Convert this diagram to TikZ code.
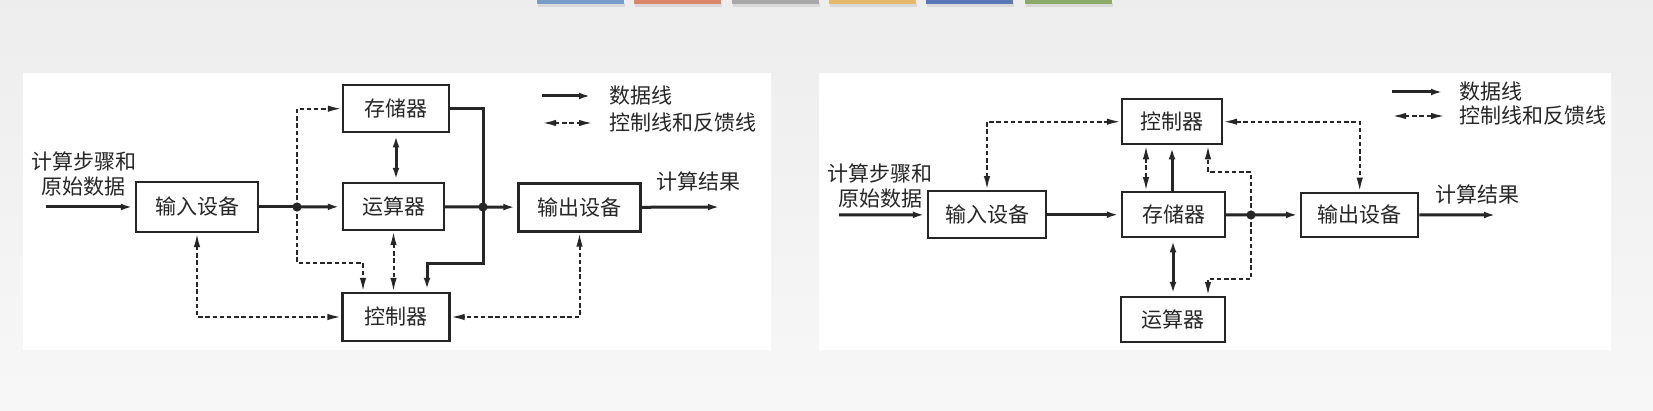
\documentclass[tikz,border=0pt]{standalone}
\usepackage{fontspec}
\newfontfamily\cjk{Noto Sans CJK SC}
\usepackage{xcolor}
\usetikzlibrary{arrows.meta,positioning}

\definecolor{tabblue}{HTML}{7A9CC8}
\definecolor{taborange}{HTML}{D9896A}
\definecolor{tabgrey}{HTML}{A8A8A8}
\definecolor{tabyellow}{HTML}{E6B86A}
\definecolor{tabnavy}{HTML}{5A78B8}
\definecolor{tabgreen}{HTML}{8AAA6A}
\definecolor{ink}{HTML}{262626}

\begin{document}
\begin{tikzpicture}[
  x = 0.5pt, y = -0.5pt,
  > = {Latex[length=7pt,width=3.2pt]},
  unit/.style = {rectangle, draw=ink, line width=1.1pt, fill=white,
                 inner sep=0pt, text=ink, font=\cjk\fontsize{10.5}{12.5}\selectfont},
  lbl/.style  = {align=center, inner sep=0pt, text=ink,
                 font=\cjk\fontsize{10.5}{12.5}\selectfont},
  data/.style = {draw=ink, line width=1.5pt},
  ctrl/.style = {draw=ink, line width=1pt, dash pattern=on 2.2pt off 1.4pt}
]
\useasboundingbox (0,0) rectangle (1653,411);
% page background
\shade[top color=black!7, bottom color=black!3] (0,0) rectangle (1653,411);
\foreach \xa/\col in {537/tabblue, 634/taborange, 732/tabgrey,
                      829/tabyellow, 926/tabnavy, 1025/tabgreen} {
  \fill[black!15] (\xa+1,3) rectangle (\xa+88,7);
  \fill[\col] (\xa,0) rectangle (\xa+87,4);
}
\fill[white] (23,73) rectangle (771,350);
\fill[white] (819,73) rectangle (1611,350);

% ---- left: von Neumann, ALU centred ----
\node[unit, minimum width=61pt, minimum height=25pt] (in1) at (197,207) {输入设备};
\node[unit, minimum width=53pt, minimum height=23.5pt] (mem1) at (396,108.7) {存储器};
\node[unit, minimum width=50.5pt, minimum height=23.5pt] (alu1) at (393.5,206.5) {运算器};
\node[unit, minimum width=53.5pt, minimum height=24pt] (ctl1) at (396,317) {控制器};
\node[unit, minimum width=61pt, minimum height=24pt] (out1) at (579.5,207.5) {输出设备};

\node[lbl] (src1) at (84,174) {计算步骤和\\原始数据};
\node[lbl] (res1) at (698,181) {计算结果};
\node[lbl, anchor=west] (key1) at (609,96) {数据线};
\node[lbl, anchor=west] (key2) at (609,123) {控制线和反馈线};

\coordinate (a1) at (46,207);
\coordinate (b1) at (722,207);
\coordinate (j1) at (297,207);
\coordinate (j2) at (483,207);
\coordinate (k1) at (427,263);
\coordinate (k2) at (363,263);
\coordinate (l1) at (542,96);
\coordinate (l2) at (542,123);

\draw[data,->] (a1) -- (in1);
\draw[data] (in1) -- (j1);
\draw[data,->] (j1) -- (alu1);
\draw[data] (alu1) -- (j2);
\draw[data,->] (j2) -- (out1);
\draw[data,->] (out1) -- (b1);
\draw[data,<->] (mem1.south) -- (mem1.south |- alu1.north);
\draw[data,->] (mem1.east) -| (j2) |- (k1) -- (k1 |- ctl1.north);
\fill[ink] (j1) circle[radius=2.3pt];
\fill[ink] (j2) circle[radius=2.3pt];

\draw[ctrl,->] (j1) |- (mem1.west);
\draw[ctrl,->] (j1) |- (k2) -- (k2 |- ctl1.north);
\draw[ctrl,<->] (alu1.south) -- (alu1.south |- ctl1.north);
\draw[ctrl,<->] (in1.south) |- (ctl1.west);
\draw[ctrl,<->] (out1.south) |- (ctl1.east);

\draw[data,->] (l1) -- ([xshift=-8pt]key1.west);
\draw[ctrl,<->] (l2) -- ([xshift=-8pt]key2.west);

% ---- right: memory centred ----
\node[unit, minimum width=59pt, minimum height=23.5pt] (in2) at (987,214.7) {输入设备};
\node[unit, minimum width=50pt, minimum height=22.5pt] (ctl2) at (1172,121.7) {控制器};
\node[unit, minimum width=51.5pt, minimum height=22.5pt] (mem2) at (1173.5,214.7) {存储器};
\node[unit, minimum width=52pt, minimum height=22.5pt] (alu2) at (1173,319.5) {运算器};
\node[unit, minimum width=58.5pt, minimum height=22pt] (out2) at (1359.7,214.7) {输出设备};

\node[lbl] (src2) at (880,186) {计算步骤和\\原始数据};
\node[lbl] (res2) at (1477,194) {计算结果};
\node[lbl, anchor=west] (key3) at (1459,92) {数据线};
\node[lbl, anchor=west] (key4) at (1459,116) {控制线和反馈线};

\coordinate (a2) at (839,215);
\coordinate (b2) at (1498,215);
\coordinate (j3) at (1251,215);
\coordinate (k3) at (1146,0);
\coordinate (k4) at (1208,172);
\coordinate (k5) at (1208,279);
\coordinate (l3) at (1392,92);
\coordinate (l4) at (1392,116);

\draw[data,->] (a2) -- (in2);
\draw[data,->] (in2) -- (mem2);
\draw[data] (mem2) -- (j3);
\draw[data,->] (j3) -- (out2);
\draw[data,->] (out2) -- (b2);
\draw[data,->] (ctl2.south |- mem2.north) -- (ctl2.south);
\draw[data,<->] (alu2.north |- mem2.south) -- (alu2.north);
\fill[ink] (j3) circle[radius=2.3pt];

\draw[ctrl,<->] (in2.north) |- (ctl2.west);
\draw[ctrl,<->] (ctl2.east) -| (out2.north);
\draw[ctrl,<->] (k3 |- ctl2.south) -- (k3 |- mem2.north);
\draw[ctrl,->] (j3) |- (k4) -- (k4 |- ctl2.south);
\draw[ctrl,->] (j3) |- (k5) -- (k5 |- alu2.north);

\draw[data,->] (l3) -- ([xshift=-7pt]key3.west);
\draw[ctrl,<->] (l4) -- ([xshift=-7pt]key4.west);
\end{tikzpicture}
\end{document}
